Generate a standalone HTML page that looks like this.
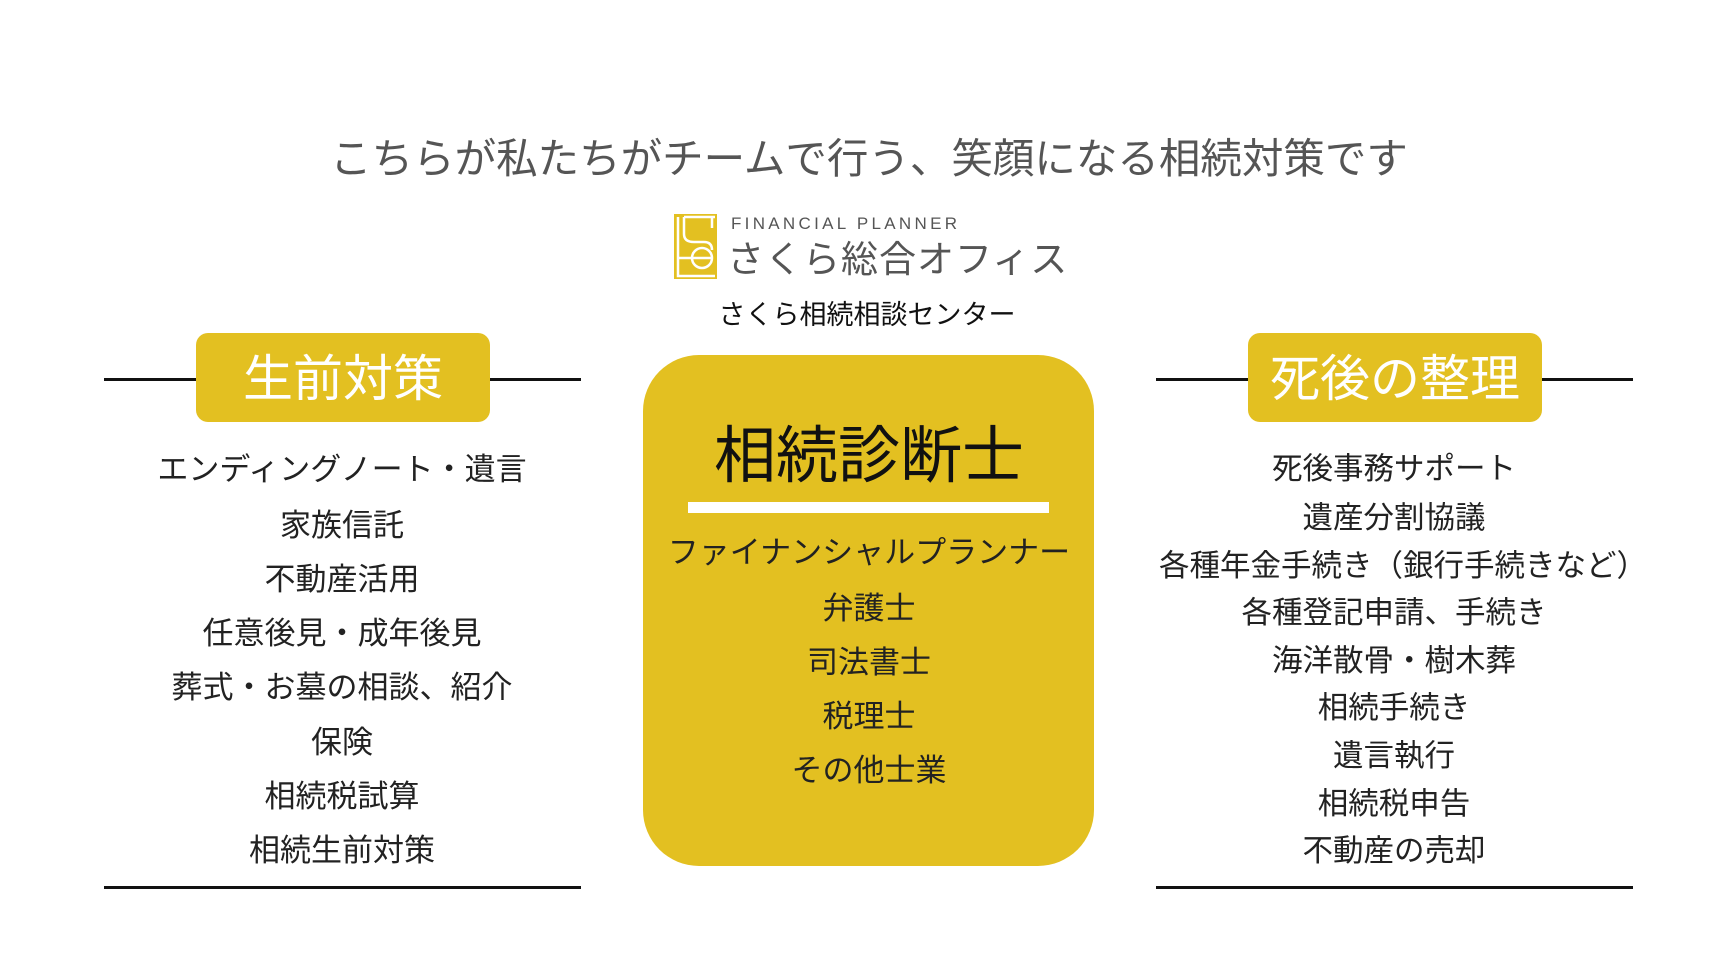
<!DOCTYPE html>
<html><head><meta charset="utf-8"><style>
body{margin:0;width:1736px;height:964px;background:#fff;position:relative;overflow:hidden;font-family:"Liberation Sans","Noto Sans CJK JP",sans-serif;}
.t{position:absolute;white-space:nowrap;line-height:1;transform:translateX(-50%);}
.ln{position:absolute;height:3px;background:#111;}
.badge{position:absolute;background:#E3C021;border-radius:12px;color:#fff;font-size:50px;line-height:92px;height:89px;text-align:center;}
.l{font-size:31px;color:#222;}
.r{font-size:30.5px;color:#222;}
</style></head><body>
<div class="t" style="left:869px;top:138px;font-size:41.5px;color:#555;">こちらが私たちがチームで行う、笑顔になる相続対策です</div>

<svg style="position:absolute;left:674px;top:214px" width="43" height="65" viewBox="0 0 43 65">
<rect width="43" height="65" fill="#E3C021"/>
<path d="M4 3 V62 H41 M10 3 H41 M38 3 V14 M10 3 V20 Q10 28 20 28 H30 Q38 28 38 36" stroke="#fff" stroke-width="2.5" fill="none"/>
<circle cx="28" cy="44" r="10" stroke="#fff" stroke-width="2.5" fill="none"/>
<path d="M4 44 H38" stroke="#fff" stroke-width="2.5"/>
</svg>
<div style="position:absolute;left:731px;top:215px;font-size:17px;letter-spacing:3.3px;color:#555;line-height:1;">FINANCIAL PLANNER</div>
<div style="position:absolute;left:727px;top:241px;font-size:37px;letter-spacing:1px;color:#555;line-height:1;">さくら総合オフィス</div>
<div class="t" style="left:867px;top:302px;font-size:27px;color:#111;">さくら相続相談センター</div>

<div class="ln" style="left:104px;top:378px;width:477px;"></div>
<div class="badge" style="left:196px;top:333px;width:294px;">生前対策</div>
<div class="ln" style="left:104px;top:886px;width:477px;"></div>
<div class="ln" style="left:1156px;top:378px;width:477px;"></div>
<div class="badge" style="left:1248px;top:333px;width:294px;">死後の整理</div>
<div class="ln" style="left:1156px;top:886px;width:477px;"></div>

<div class="t l" style="left:342px;top:454px;">エンディングノート・遺言</div>
<div class="t l" style="left:342px;top:510px;">家族信託</div>
<div class="t l" style="left:342px;top:564px;">不動産活用</div>
<div class="t l" style="left:342px;top:618px;">任意後見・成年後見</div>
<div class="t l" style="left:342px;top:672px;">葬式・お墓の相談、紹介</div>
<div class="t l" style="left:342px;top:727px;">保険</div>
<div class="t l" style="left:342px;top:781px;">相続税試算</div>
<div class="t l" style="left:342px;top:835px;">相続生前対策</div>

<div style="position:absolute;left:643px;top:355px;width:451px;height:511px;background:#E3C021;border-radius:56px;"></div>
<div class="t" style="left:869px;top:426px;font-size:62px;color:#111;">相続診断士</div>
<div style="position:absolute;left:688px;top:502px;width:361px;height:11px;background:#fff;"></div>
<div class="t l" style="left:869px;top:537px;">ファイナンシャルプランナー</div>
<div class="t l" style="left:869px;top:593px;">弁護士</div>
<div class="t l" style="left:869px;top:647px;">司法書士</div>
<div class="t l" style="left:869px;top:701px;">税理士</div>
<div class="t l" style="left:869px;top:755px;">その他士業</div>

<div class="t r" style="left:1394px;top:454px;">死後事務サポート</div>
<div class="t r" style="left:1394px;top:503px;">遺産分割協議</div>
<div class="t r" style="left:1403px;top:551px;">各種年金手続き（銀行手続きなど）</div>
<div class="t r" style="left:1394px;top:598px;">各種登記申請、手続き</div>
<div class="t r" style="left:1394px;top:646px;">海洋散骨・樹木葬</div>
<div class="t r" style="left:1394px;top:693px;">相続手続き</div>
<div class="t r" style="left:1394px;top:741px;">遺言執行</div>
<div class="t r" style="left:1394px;top:789px;">相続税申告</div>
<div class="t r" style="left:1394px;top:836px;">不動産の売却</div>
</body></html>
